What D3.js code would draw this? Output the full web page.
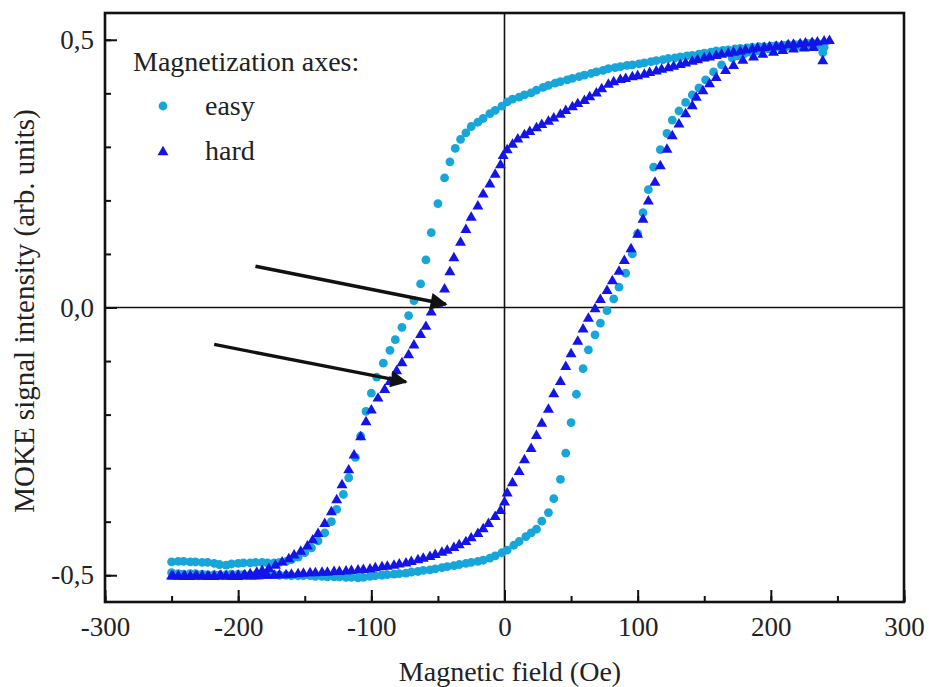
<!DOCTYPE html>
<html>
<head>
<meta charset="utf-8">
<script src="https://cdn.jsdelivr.net/npm/d3@7"></script>
<style>
  body { margin: 0; background: #fff; }
  svg text { font-family: "Liberation Serif", "Times New Roman", serif; fill: #222; }
</style>
</head>
<body>
<svg id="chart" width="929" height="687"></svg>
<script>
// Hysteresis loops, [field (Oe), signal]
const easyDown = [
  [240,0.486],[236,0.492],[231,0.494],[227,0.493],[222,0.492],[218,0.491],[213,0.491],[209,0.490],
  [204,0.489],[200,0.488],[195,0.487],[191,0.487],[186,0.486],[182,0.485],[177,0.484],[173,0.483],
  [168,0.481],[164,0.480],[159,0.479],[155,0.477],[150,0.475],[146,0.473],[141,0.471],[137,0.470],
  [132,0.468],[128,0.466],[123,0.465],[119,0.463],[114,0.461],[110,0.459],[105,0.457],[101,0.455],
  [96,0.453],[92,0.452],[87,0.450],[83,0.448],[78,0.446],[74,0.443],[69,0.440],[65,0.437],
  [60,0.434],[56,0.431],[51,0.428],[47,0.425],[42,0.422],[38,0.419],[33,0.415],[29,0.411],
  [24,0.406],[20,0.401],[15,0.397],[11,0.393],[6,0.389],[2,0.384],[-2,0.376],[-7,0.368],
  [-11,0.362],[-16,0.353],[-20,0.346],[-25,0.338],[-29,0.326],[-33,0.314],[-37,0.297],[-41,0.272],
  [-45,0.242],[-50,0.194],[-55,0.140],[-59,0.089],[-63,0.044],[-68,0.013],[-72,-0.015],[-77,-0.037],
  [-82,-0.060],[-86,-0.080],[-91,-0.104],[-96,-0.130],[-100,-0.160],[-104,-0.194],[-108,-0.240],[-112,-0.280],
  [-117,-0.318],[-121,-0.349],[-126,-0.377],[-130,-0.400],[-135,-0.421],[-140,-0.436],[-145,-0.449],[-150,-0.458],
  [-155,-0.466],[-160,-0.471],[-164,-0.474],[-169,-0.476],[-173,-0.477],[-178,-0.477],[-182,-0.476],[-187,-0.476],
  [-191,-0.477],[-196,-0.477],[-200,-0.478],[-205,-0.479],[-209,-0.481],[-214,-0.480],[-218,-0.478],[-223,-0.476],
  [-227,-0.476],[-232,-0.475],[-236,-0.475],[-241,-0.474],[-245,-0.474],[-250,-0.475]
];
const easyUp = [
  [-250,-0.495],[-245,-0.497],[-241,-0.498],[-236,-0.497],[-232,-0.497],[-227,-0.498],[-223,-0.499],[-218,-0.499],
  [-214,-0.500],[-209,-0.499],[-205,-0.498],[-200,-0.498],[-196,-0.499],[-191,-0.500],[-187,-0.500],[-182,-0.500],
  [-178,-0.499],[-173,-0.499],[-169,-0.500],[-164,-0.500],[-160,-0.501],[-155,-0.501],[-151,-0.501],[-146,-0.501],
  [-142,-0.502],[-137,-0.502],[-133,-0.503],[-128,-0.503],[-124,-0.503],[-119,-0.504],[-115,-0.504],[-110,-0.505],
  [-106,-0.504],[-101,-0.502],[-97,-0.501],[-92,-0.500],[-88,-0.499],[-83,-0.498],[-79,-0.497],[-74,-0.496],
  [-70,-0.494],[-65,-0.493],[-61,-0.491],[-56,-0.490],[-52,-0.488],[-47,-0.486],[-43,-0.484],[-38,-0.482],
  [-34,-0.480],[-29,-0.478],[-25,-0.476],[-20,-0.474],[-16,-0.472],[-11,-0.468],[-7,-0.464],[-2,-0.458],
  [2,-0.453],[7,-0.444],[11,-0.437],[16,-0.428],[20,-0.421],[24,-0.414],[28,-0.399],[33,-0.383],
  [37,-0.357],[42,-0.321],[46,-0.272],[50,-0.215],[54,-0.162],[59,-0.114],[63,-0.079],[68,-0.051],
  [72,-0.029],[77,-0.006],[82,0.016],[86,0.038],[91,0.064],[96,0.100],[100,0.138],[104,0.177],
  [108,0.220],[112,0.262],[117,0.295],[122,0.325],[126,0.350],[131,0.367],[136,0.383],[141,0.397],
  [146,0.410],[151,0.425],[157,0.440],[163,0.453],[171,0.466],[175,0.470],[180,0.474],[184,0.477],
  [189,0.479],[193,0.481],[198,0.483],[202,0.484],[207,0.485],[211,0.486],[216,0.487],[220,0.488],
  [225,0.488],[229,0.488],[234,0.487],[239,0.476]
];
const hardDown = [
  [244,0.500],[240,0.499],[235,0.497],[231,0.496],[226,0.495],[222,0.494],[217,0.493],[213,0.492],
  [208,0.490],[204,0.489],[199,0.488],[195,0.487],[190,0.486],[186,0.484],[181,0.482],[177,0.480],
  [172,0.478],[168,0.476],[163,0.474],[159,0.472],[154,0.469],[150,0.467],[145,0.464],[141,0.461],
  [136,0.458],[132,0.455],[127,0.452],[123,0.449],[118,0.446],[114,0.443],[109,0.440],[105,0.437],
  [100,0.434],[96,0.432],[91,0.429],[87,0.427],[82,0.423],[78,0.418],[73,0.410],[69,0.402],
  [64,0.395],[60,0.388],[55,0.382],[51,0.376],[46,0.369],[42,0.362],[37,0.355],[33,0.349],
  [28,0.343],[24,0.337],[19,0.330],[15,0.324],[10,0.316],[6,0.306],[2,0.296],[-1,0.285],
  [-3,0.268],[-7,0.250],[-11,0.232],[-16,0.213],[-20,0.191],[-25,0.170],[-29,0.147],[-33,0.123],
  [-38,0.094],[-41,0.068],[-45,0.036],[-50,0.009],[-55,-0.007],[-59,-0.034],[-63,-0.049],[-68,-0.069],
  [-72,-0.087],[-77,-0.102],[-81,-0.117],[-86,-0.137],[-90,-0.152],[-95,-0.168],[-100,-0.190],[-104,-0.212],
  [-108,-0.240],[-113,-0.274],[-117,-0.302],[-122,-0.330],[-126,-0.358],[-130,-0.380],[-135,-0.402],[-140,-0.421],
  [-144,-0.433],[-148,-0.444],[-153,-0.454],[-158,-0.461],[-162,-0.468],[-167,-0.474],[-172,-0.480],[-177,-0.486],
  [-182,-0.490],[-186,-0.493],[-191,-0.496],[-195,-0.498],[-200,-0.499],[-204,-0.500],[-209,-0.500],[-213,-0.499],
  [-218,-0.500],[-222,-0.501],[-227,-0.500],[-231,-0.500],[-236,-0.501],[-240,-0.500],[-245,-0.500],[-249,-0.500]
];
const hardUp = [
  [-250,-0.500],[-245,-0.500],[-241,-0.501],[-236,-0.500],[-232,-0.500],[-227,-0.500],[-223,-0.501],[-218,-0.501],
  [-214,-0.500],[-209,-0.500],[-205,-0.501],[-200,-0.501],[-196,-0.500],[-191,-0.500],[-187,-0.500],[-182,-0.499],
  [-178,-0.499],[-173,-0.499],[-169,-0.498],[-164,-0.498],[-160,-0.497],[-155,-0.496],[-151,-0.495],[-146,-0.494],
  [-142,-0.494],[-137,-0.493],[-133,-0.493],[-128,-0.492],[-124,-0.492],[-119,-0.491],[-115,-0.490],[-110,-0.489],
  [-106,-0.488],[-101,-0.487],[-97,-0.485],[-92,-0.483],[-88,-0.482],[-83,-0.480],[-79,-0.478],[-74,-0.476],
  [-70,-0.473],[-65,-0.470],[-61,-0.467],[-56,-0.464],[-52,-0.460],[-47,-0.456],[-43,-0.452],[-38,-0.447],
  [-34,-0.442],[-29,-0.436],[-25,-0.429],[-20,-0.421],[-16,-0.412],[-12,-0.402],[-7,-0.389],[-3,-0.378],
  [0,-0.362],[2,-0.345],[6,-0.326],[11,-0.305],[15,-0.283],[20,-0.262],[24,-0.238],[28,-0.215],
  [33,-0.189],[37,-0.160],[42,-0.137],[46,-0.109],[50,-0.085],[55,-0.062],[59,-0.039],[63,-0.019],
  [68,-0.001],[72,0.016],[77,0.033],[81,0.051],[86,0.069],[90,0.089],[95,0.111],[100,0.138],
  [104,0.166],[108,0.200],[113,0.235],[117,0.266],[122,0.297],[126,0.322],[131,0.344],[136,0.363],
  [141,0.378],[144,0.394],[149,0.406],[154,0.419],[159,0.431],[166,0.444],[172,0.453],[179,0.463],
  [187,0.469],[194,0.474],[202,0.478],[209,0.481],[217,0.484],[225,0.486],[232,0.487],[239,0.462]
];

const xTicksMajor = [-300, -200, -100, 0, 100, 200, 300];
const yTicksMajor = [-0.5, 0, 0.5];
const legendTitle = "Magnetization axes:";
const seriesNames = ["easy", "hard"];
const xTitle = "Magnetic field (Oe)";
const yTitle = "MOKE signal intensity (arb. units)";
// arrows pointing at the coercive points, in data units [from, to]
const arrows = [
  [[-187, 0.077], [-44, 0.006]],
  [[-218, -0.069], [-74, -0.139]]
];

const easyColor = "#17a6da";
const hardColor = "#1414e8";

const svg = d3.select("#chart");
const mLeft = 105, mRight = 904, mTop = 13, mBottom = 602;

const x = d3.scaleLinear().domain([-300, 300]).range([mLeft, mRight]);
const y = d3.scaleLinear().domain([-0.55, 0.55]).range([mBottom, mTop]);

// zero lines
svg.append("line")
  .attr("x1", x(0)).attr("x2", x(0)).attr("y1", mTop).attr("y2", mBottom)
  .attr("stroke", "#111").attr("stroke-width", 1.6);
svg.append("line")
  .attr("x1", mLeft).attr("x2", mRight).attr("y1", y(0)).attr("y2", y(0))
  .attr("stroke", "#111").attr("stroke-width", 1.6);

// minor ticks
svg.append("g")
  .attr("transform", `translate(0,${mBottom})`)
  .call(d3.axisBottom(x).tickValues(d3.range(-300, 301, 50)).tickSize(-6).tickFormat(""))
  .call(g => g.select(".domain").remove());
svg.append("g")
  .attr("transform", `translate(${mLeft},0)`)
  .call(d3.axisLeft(y).tickValues(d3.range(-5, 6).map(d => d / 10)).tickSize(-6).tickFormat(""))
  .call(g => g.select(".domain").remove());

// major ticks + labels
const xAxis = svg.append("g")
  .attr("transform", `translate(0,${mBottom})`)
  .call(d3.axisBottom(x).tickValues(xTicksMajor).tickSize(-12).tickPadding(15)
    .tickFormat(d => String(d)));
xAxis.select(".domain").remove();
xAxis.selectAll("text").attr("font-size", 27).style("font-family", "Liberation Serif");

const yAxis = svg.append("g")
  .attr("transform", `translate(${mLeft},0)`)
  .call(d3.axisLeft(y).tickValues(yTicksMajor).tickSize(-12).tickPadding(11)
    .tickFormat(d => d.toFixed(1).replace(".", ",")));
yAxis.select(".domain").remove();
yAxis.selectAll("text").attr("font-size", 27).style("font-family", "Liberation Serif");

svg.selectAll(".tick line").attr("stroke", "#111").attr("stroke-width", 2);

// frame
svg.append("rect")
  .attr("x", mLeft).attr("y", mTop)
  .attr("width", mRight - mLeft).attr("height", mBottom - mTop)
  .attr("fill", "none").attr("stroke", "#111").attr("stroke-width", 2.6);

// data
const tri = d3.symbol().type(d3.symbolTriangle).size(52);

const easyG = svg.append("g");
[easyDown, easyUp].forEach(branch => {
  easyG.selectAll(null).data(branch).enter().append("circle")
    .attr("cx", d => x(d[0])).attr("cy", d => y(d[1]))
    .attr("r", 4.4).attr("fill", easyColor);
});
const hardG = svg.append("g");
[hardDown, hardUp].forEach(branch => {
  hardG.selectAll(null).data(branch).enter().append("path")
    .attr("d", tri)
    .attr("transform", d => `translate(${x(d[0])},${y(d[1]) + 1})`)
    .attr("fill", hardColor);
});

// arrows
svg.append("defs").append("marker")
  .attr("id", "head").attr("viewBox", "0 0 10 10")
  .attr("refX", 9).attr("refY", 5)
  .attr("markerWidth", 6.5).attr("markerHeight", 5)
  .attr("markerUnits", "strokeWidth").attr("orient", "auto")
  .append("path").attr("d", "M0,0 L10,5 L0,10 z").attr("fill", "#111");
arrows.forEach(a => {
  svg.append("line")
    .attr("x1", x(a[0][0])).attr("y1", y(a[0][1]))
    .attr("x2", x(a[1][0])).attr("y2", y(a[1][1]))
    .attr("stroke", "#111").attr("stroke-width", 3.4)
    .attr("marker-end", "url(#head)");
});

// legend
const legend = svg.append("g");
legend.append("text").attr("x", 133).attr("y", 71).attr("font-size", 28).text(legendTitle);
legend.append("circle").attr("cx", 163).attr("cy", 106).attr("r", 4.4).attr("fill", easyColor);
legend.append("path").attr("d", tri).attr("transform", "translate(163,152)").attr("fill", hardColor);
legend.append("text").attr("x", 205).attr("y", 115).attr("font-size", 28).text(seriesNames[0]);
legend.append("text").attr("x", 205).attr("y", 160).attr("font-size", 28).text(seriesNames[1]);

// axis titles
svg.append("text")
  .attr("x", 510).attr("y", 681)
  .attr("text-anchor", "middle").attr("font-size", 28)
  .text(xTitle);
svg.append("text")
  .attr("transform", "translate(34,311) rotate(-90)")
  .attr("text-anchor", "middle").attr("font-size", 29)
  .text(yTitle);
</script>
</body>
</html>
